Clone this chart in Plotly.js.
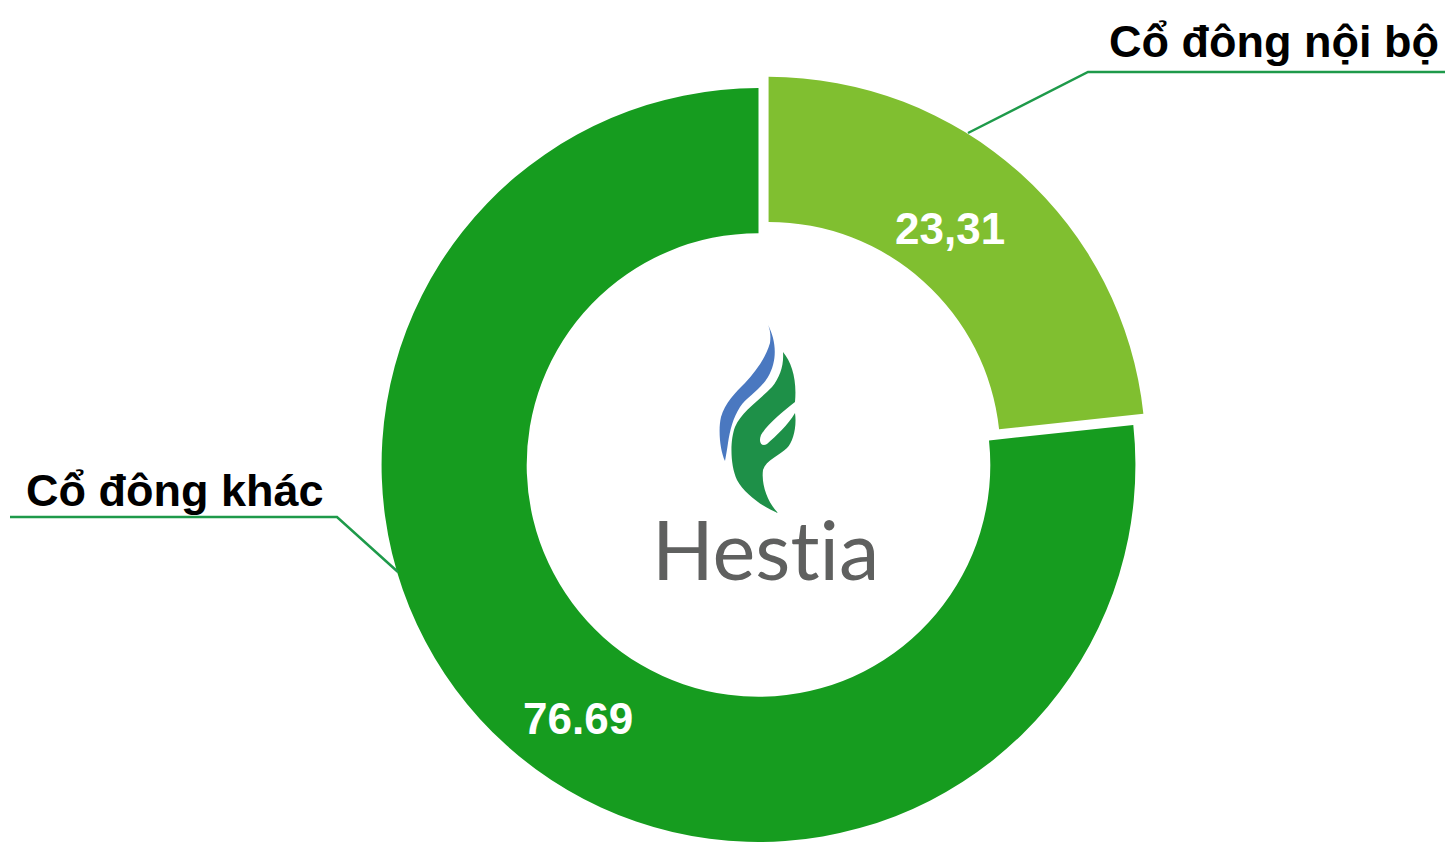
<!DOCTYPE html>
<html>
<head>
<meta charset="utf-8">
<script src="https://cdn.plot.ly/plotly-3.0.1.min.js"></script>
<style>
html,body{margin:0;padding:0;overflow:hidden;background:#fff;}
#chart{width:1445px;height:870px;}
text{font-variant-ligatures:none;font-feature-settings:"liga" 0,"clig" 0;}
</style>
</head>
<body>
<div id="chart"></div>
<script>
// ---- data ----
const labels = ['Cổ đông nội bộ', 'Cổ đông khác'];
const values = [23.31, 76.69];
const valueText = ['23,31', '76.69'];
const sliceColors = ['#80BF30', '#169C1F'];
const brandName = 'Hestia';

const W = 1445, H = 870;
const px = x => x / W;
const py = y => 1 - y / H;

const flameSvg =
  '<svg xmlns="http://www.w3.org/2000/svg" width="120" height="205" viewBox="0 0 120 205">' +
  '<path fill="#4A78C0" d="M68,10 C76,25 78,45 68,62 C60,75 47,82 40,92 C33,103 30,115 28,128 C27,135 26,140 25,146 C20,135 18,115 21,102 C25,88 35,78 45,68 C57,55 66,42 70,28 C71,20 70,14 68,10 Z"/>' +
  '<path fill="#1E9048" d="M83,37 C92,48 97,65 95,87 C85,95 68,108 61,120 C58,128 62,132 67,129 C76,121 88,110 95,98 C97,112 93,127 87,133 C80,140 66,145 63,155 C61,170 68,188 78,198 C65,193 45,180 37,165 C30,150 30,125 35,112 C42,96 60,85 72,72 C80,62 84,50 83,37 Z"/>' +
  '</svg>';

const trace = {
  type: 'pie',
  labels: labels,
  values: values,
  textinfo: 'none',
  sort: false,
  direction: 'clockwise',
  rotation: 0,
  hole: 0.615,
  pull: [0.04, 0],
  marker: {colors: sliceColors, line: {width: 0}},
  hoverinfo: 'none',
  showlegend: false,
  domain: {x: [px(758.5 - 392), px(758.5 + 392)], y: [1 - 857 / H, 1 - 73 / H]}
};

const lineColor = '#1E9A4A';
const boldFont = (size, color) => ({family: 'Liberation Sans, Arial, sans-serif', size: size, color: color, weight: 'bold'});
const layout = {
  width: W,
  height: H,
  margin: {l: 0, r: 0, t: 0, b: 0},
  paper_bgcolor: '#ffffff',
  showlegend: false,
  shapes: [
    {type: 'path', xref: 'paper', yref: 'paper',
     path: `M${px(968)},${py(133)} L${px(1088)},${py(72)} L${px(1445)},${py(72)}`,
     line: {color: lineColor, width: 2.5}},
    {type: 'path', xref: 'paper', yref: 'paper',
     path: `M${px(398)},${py(572)} L${px(337)},${py(517)} L${px(10)},${py(517)}`,
     line: {color: lineColor, width: 2.5}}
  ],
  annotations: [
    {text: labels[0], xref: 'paper', yref: 'paper', x: px(1441), y: py(42),
     xanchor: 'right', yanchor: 'middle', showarrow: false, font: boldFont(45, '#000')},
    {text: labels[1], xref: 'paper', yref: 'paper', x: px(24), y: py(490),
     xanchor: 'left', yanchor: 'middle', showarrow: false, font: boldFont(45, '#000')},
    {text: valueText[0], xref: 'paper', yref: 'paper', x: px(950), y: py(228),
     xanchor: 'center', yanchor: 'middle', showarrow: false, font: boldFont(44, '#fff')},
    {text: valueText[1], xref: 'paper', yref: 'paper', x: px(578), y: py(718),
     xanchor: 'center', yanchor: 'middle', showarrow: false, font: boldFont(44, '#fff')},
    {text: brandName, xref: 'paper', yref: 'paper', x: px(765), y: py(548),
     xanchor: 'center', yanchor: 'middle', showarrow: false,
     font: {family: 'Lato, Open Sans, sans-serif', size: 81, color: '#5F605F', weight: 400}}
  ],
  images: [
    {source: 'data:image/svg+xml;charset=utf-8,' + encodeURIComponent(flameSvg),
     xref: 'paper', yref: 'paper', x: px(700), y: py(315), sizex: 120 / W, sizey: 205 / H,
     xanchor: 'left', yanchor: 'top', sizing: 'stretch', layer: 'above'}
  ]
};

Plotly.newPlot('chart', [trace], layout, {displayModeBar: false, staticPlot: true});
</script>
</body>
</html>
